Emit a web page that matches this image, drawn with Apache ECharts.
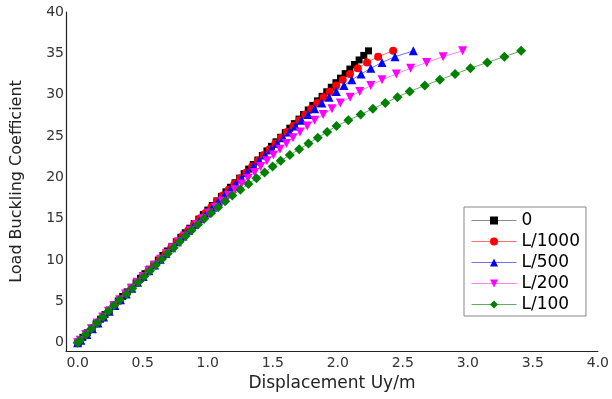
<!DOCTYPE html>
<html>
<head>
<meta charset="utf-8">
<script src="https://cdn.jsdelivr.net/npm/echarts@6/dist/echarts.min.js"></script>
<style>
  html, body { margin: 0; padding: 0; background: #fff; }
  #chart { width: 612px; height: 399px; }
</style>
</head>
<body>
<div id="chart"></div>
<script>
// load steps (y) for the "0" curve (finer steps)
const loads0 = [0, 0.1, 0.65, 1.2, 1.75, 2.3, 2.85, 3.4, 3.95, 4.5, 5.05, 5.6, 6.15, 6.7, 7.25, 7.8, 8.35, 8.9, 9.45,
  10.0, 10.55, 11.1, 11.65, 12.2, 12.75, 13.3, 13.85, 14.4, 14.95, 15.5, 16.05, 16.6, 17.15, 17.7, 18.25, 18.8, 19.35,
  19.9, 20.45, 21.0, 21.55, 22.1, 22.65, 23.2, 23.75, 24.3, 24.85, 25.4, 25.95, 26.5, 27.05, 27.6, 28.15, 28.7, 29.25,
  29.8, 30.35, 30.9, 31.45, 32.0, 32.55, 33.1, 33.65, 34.2, 34.75, 35.3];
// load steps (y) for the imperfect curves
const loads = [0, 0.3, 1.0, 1.7, 2.4, 3.1, 3.8, 4.5, 5.2, 5.9, 6.6, 7.3, 8.0, 8.7, 9.4, 10.1, 10.8, 11.5, 12.2, 12.9,
  13.6, 14.3, 15.0, 15.7, 16.4, 17.1, 17.8, 18.5, 19.2, 19.9, 20.6, 21.3, 22.0, 22.7, 23.4, 24.1, 24.8, 25.5, 26.2,
  26.9, 27.6, 28.3, 29.0, 29.7, 30.4, 31.1, 31.8, 32.5, 33.2, 33.9, 34.6, 35.3];

// displacement Uy (x)
const disp0 = [0, 0.006, 0.040, 0.074, 0.108, 0.142, 0.176, 0.210, 0.244, 0.278, 0.312, 0.346, 0.380, 0.414, 0.449,
  0.483, 0.517, 0.552, 0.586, 0.620, 0.655, 0.689, 0.724, 0.758, 0.793, 0.827, 0.862, 0.896, 0.931, 0.966, 1.001,
  1.035, 1.070, 1.105, 1.140, 1.175, 1.210, 1.245, 1.280, 1.315, 1.350, 1.385, 1.420, 1.455, 1.490, 1.525, 1.561,
  1.596, 1.631, 1.666, 1.702, 1.737, 1.773, 1.808, 1.844, 1.879, 1.915, 1.950, 1.986, 2.021, 2.057, 2.093, 2.129,
  2.164, 2.200, 2.236];
const dispL1000 = [0, 0.02, 0.066, 0.11, 0.153, 0.196, 0.239, 0.283, 0.326, 0.37, 0.413, 0.457, 0.50, 0.544, 0.588,
  0.632, 0.675, 0.719, 0.763, 0.807, 0.851, 0.895, 0.939, 0.983, 1.028, 1.072, 1.116, 1.161, 1.205, 1.25, 1.297,
  1.342, 1.386, 1.431, 1.476, 1.52, 1.565, 1.61, 1.659, 1.704, 1.749, 1.795, 1.842, 1.89, 1.938, 1.988, 2.038,
  2.094, 2.154, 2.225, 2.31, 2.426];
const dispL500 = [0, 0.024, 0.07, 0.113, 0.156, 0.199, 0.242, 0.286, 0.329, 0.373, 0.416, 0.46, 0.503, 0.547, 0.591,
  0.635, 0.678, 0.722, 0.766, 0.81, 0.854, 0.898, 0.945, 0.991, 1.037, 1.081, 1.126, 1.171, 1.215, 1.26, 1.304,
  1.349, 1.395, 1.441, 1.488, 1.534, 1.581, 1.628, 1.675, 1.722, 1.772, 1.822, 1.877, 1.933, 1.988, 2.048, 2.108,
  2.179, 2.254, 2.34, 2.44, 2.581];
const dispL200 = [0, 0.019, 0.062, 0.105, 0.149, 0.192, 0.236, 0.279, 0.323, 0.368, 0.412, 0.457, 0.502, 0.547, 0.592,
  0.637, 0.683, 0.729, 0.775, 0.821, 0.868, 0.914, 0.96, 1.008, 1.06, 1.11, 1.16, 1.21, 1.26, 1.31, 1.36,
  1.407, 1.455, 1.505, 1.555, 1.605, 1.655, 1.71, 1.765, 1.822, 1.888, 1.955, 2.02, 2.095, 2.169, 2.254, 2.34,
  2.45, 2.56, 2.683, 2.81, 2.96];
const dispL100 = [0, 0.019, 0.062, 0.105, 0.149, 0.192, 0.236, 0.279, 0.323, 0.375, 0.42, 0.466, 0.511, 0.556, 0.601,
  0.646, 0.692, 0.738, 0.784, 0.83, 0.876, 0.925, 0.973, 1.026, 1.08, 1.134, 1.189, 1.251, 1.313, 1.375, 1.437,
  1.499, 1.561, 1.631, 1.703, 1.775, 1.846, 1.918, 1.99, 2.081, 2.176, 2.27, 2.365, 2.459, 2.553, 2.669, 2.785,
  2.902, 3.02, 3.15, 3.281, 3.41];

const seriesNames = ['0', 'L/1000', 'L/500', 'L/200', 'L/100'];
const xTicks = [0, 0.5, 1.0, 1.5, 2.0, 2.5, 3.0, 3.5, 4.0];
const yTicks = [0, 5, 10, 15, 20, 25, 30, 35, 40];

const allLoads = [loads0, loads, loads, loads, loads];
const allDisp = [disp0, dispL1000, dispL500, dispL200, dispL100];
const markColors = ['#000000', '#ff0000', '#0000ff', '#ff00ff', '#008000'];
const lineColors = ['#8a8a8a', '#ff7070', '#7070ff', '#ff80ff', '#66aa66'];
const symbols = ['rect', 'circle', 'triangle', 'triangle', 'diamond'];
const symbolRot = [0, 0, 0, 180, 0];
const symbolSizes = [7, 8, 9, 9, 10];

const font = 'DejaVu Sans';
const chart = echarts.init(document.getElementById('chart'), null, { renderer: 'canvas' });

chart.setOption({
  animation: false,
  backgroundColor: '#fff',
  grid: { left: 66, right: 12, top: 12, bottom: 48 },
  xAxis: {
    type: 'value',
    min: -0.09,
    max: 4,
    name: 'Displacement Uy/m',
    nameLocation: 'middle',
    nameGap: 23,
    nameTextStyle: { fontFamily: font, fontSize: 17, color: '#222' },
    axisLine: { show: true, onZero: false, lineStyle: { color: '#222', width: 1.2 } },
    axisTick: { show: false },
    splitLine: { show: false },
    axisLabel: {
      customValues: xTicks,
      formatter: v => v.toFixed(1),
      fontFamily: font, fontSize: 14, color: '#333', margin: 5
    }
  },
  yAxis: {
    type: 'value',
    min: -1,
    max: 40,
    name: 'Load Buckling Coefficient',
    nameLocation: 'middle',
    nameGap: 41,
    nameTextStyle: { fontFamily: font, fontSize: 16, color: '#222' },
    axisLine: { show: true, onZero: false, lineStyle: { color: '#222', width: 1.2 } },
    axisTick: { show: false },
    splitLine: { show: false },
    axisLabel: {
      customValues: yTicks,
      fontFamily: font, fontSize: 14, color: '#333', margin: 2
    }
  },
  legend: {
    orient: 'vertical',
    left: 464,
    top: 207,
    padding: [5, 6, 3, 7],
    itemWidth: 45,
    itemHeight: 10,
    itemGap: 4,
    borderColor: '#888',
    borderWidth: 1,
    backgroundColor: '#fff',
    lineStyle: { width: 1 },
    textStyle: { fontFamily: font, fontSize: 17, color: '#000' },
    data: seriesNames
  },
  series: seriesNames.map((name, k) => ({
    name: name,
    type: 'line',
    data: allDisp[k].map((x, i) => [x, allLoads[k][i]]),
    symbol: symbols[k],
    symbolSize: symbolSizes[k],
    symbolRotate: symbolRot[k],
    showAllSymbol: true,
    itemStyle: { color: markColors[k] },
    lineStyle: { color: lineColors[k], width: 1 }
  }))
});
</script>
</body>
</html>
